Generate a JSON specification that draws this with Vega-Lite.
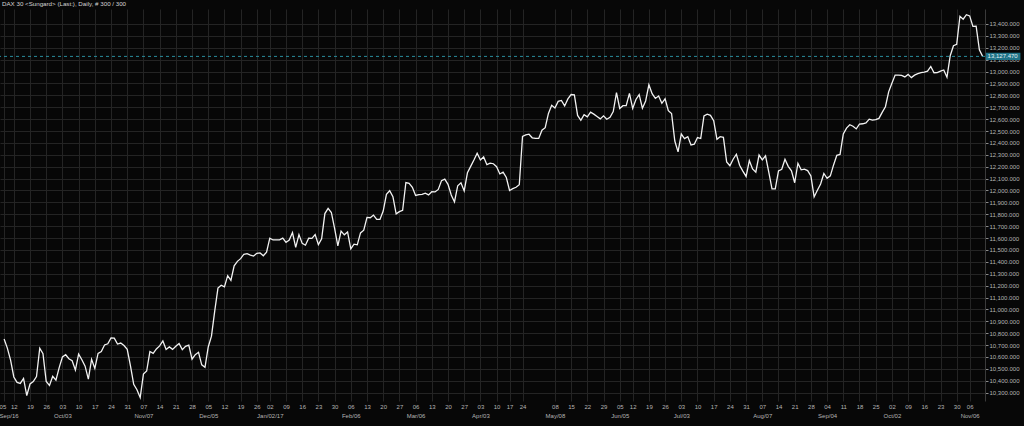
{
  "$schema": "https://vega.github.io/schema/vega-lite/v6.json",
  "width": 985,
  "height": 392,
  "autosize": {"type": "none"},
  "padding": {"left": 0, "top": 9, "right": 39, "bottom": 25},
  "background": "#070707",
  "title": {"text": "DAX 30 <Sungard> (Last:), Daily, # 300 / 300", "anchor": "start", "frame": "group", "offset": 2, "dx": 2, "fontSize": 6.2, "fontWeight": "normal", "color": "#d4d4d4", "font": "Liberation Sans"},
  "config": {
    "font": "Liberation Sans",
    "view": {"stroke": null, "fill": "#070707"},
    "axis": {"gridColor": "#242424", "gridWidth": 1, "labelColor": "#b4b4b4", "labelFont": "Liberation Sans", "labelFontSize": 6}
  },
  "datasets": {
    "dax": [
      {"d":"2016-09-07","v":10752},{"d":"2016-09-08","v":10675},{"d":"2016-09-09","v":10573},{"d":"2016-09-12","v":10432},{"d":"2016-09-13","v":10386},{"d":"2016-09-14","v":10378},{"d":"2016-09-15","v":10420},{"d":"2016-09-16","v":10276},{"d":"2016-09-19","v":10373},{"d":"2016-09-20","v":10393},{"d":"2016-09-21","v":10436},{"d":"2016-09-22","v":10674},{"d":"2016-09-23","v":10627},{"d":"2016-09-26","v":10394},{"d":"2016-09-27","v":10361},{"d":"2016-09-28","v":10438},{"d":"2016-09-29","v":10405},{"d":"2016-09-30","v":10511},
      {"d":"2016-10-03","v":10600},{"d":"2016-10-04","v":10619},{"d":"2016-10-05","v":10585},{"d":"2016-10-06","v":10568},{"d":"2016-10-07","v":10490},{"d":"2016-10-10","v":10624},{"d":"2016-10-11","v":10577},{"d":"2016-10-12","v":10523},{"d":"2016-10-13","v":10414},{"d":"2016-10-14","v":10580},{"d":"2016-10-17","v":10504},{"d":"2016-10-18","v":10631},{"d":"2016-10-19","v":10646},{"d":"2016-10-20","v":10701},{"d":"2016-10-21","v":10711},{"d":"2016-10-24","v":10761},{"d":"2016-10-25","v":10758},{"d":"2016-10-26","v":10709},{"d":"2016-10-27","v":10717},{"d":"2016-10-28","v":10696},{"d":"2016-10-31","v":10665},
      {"d":"2016-11-01","v":10526},{"d":"2016-11-02","v":10370},{"d":"2016-11-03","v":10325},{"d":"2016-11-04","v":10259},{"d":"2016-11-07","v":10456},{"d":"2016-11-08","v":10482},{"d":"2016-11-09","v":10646},{"d":"2016-11-10","v":10631},{"d":"2016-11-11","v":10668},{"d":"2016-11-14","v":10693},{"d":"2016-11-15","v":10735},{"d":"2016-11-16","v":10663},{"d":"2016-11-17","v":10685},{"d":"2016-11-18","v":10664},{"d":"2016-11-21","v":10690},{"d":"2016-11-22","v":10714},{"d":"2016-11-23","v":10662},{"d":"2016-11-24","v":10689},{"d":"2016-11-25","v":10699},{"d":"2016-11-28","v":10582},{"d":"2016-11-29","v":10620},{"d":"2016-11-30","v":10640},
      {"d":"2016-12-01","v":10534},{"d":"2016-12-02","v":10513},{"d":"2016-12-05","v":10684},{"d":"2016-12-06","v":10775},{"d":"2016-12-07","v":10986},{"d":"2016-12-08","v":11179},{"d":"2016-12-09","v":11203},{"d":"2016-12-12","v":11190},{"d":"2016-12-13","v":11284},{"d":"2016-12-14","v":11244},{"d":"2016-12-15","v":11367},{"d":"2016-12-16","v":11404},{"d":"2016-12-19","v":11427},{"d":"2016-12-20","v":11464},{"d":"2016-12-21","v":11469},{"d":"2016-12-22","v":11456},{"d":"2016-12-23","v":11449},{"d":"2016-12-27","v":11472},{"d":"2016-12-28","v":11475},{"d":"2016-12-29","v":11451},{"d":"2016-12-30","v":11481},
      {"d":"2017-01-02","v":11599},{"d":"2017-01-03","v":11584},{"d":"2017-01-04","v":11585},{"d":"2017-01-05","v":11585},{"d":"2017-01-06","v":11599},{"d":"2017-01-09","v":11563},{"d":"2017-01-10","v":11583},{"d":"2017-01-11","v":11646},{"d":"2017-01-12","v":11521},{"d":"2017-01-13","v":11629},{"d":"2017-01-16","v":11555},{"d":"2017-01-17","v":11540},{"d":"2017-01-18","v":11599},{"d":"2017-01-19","v":11597},{"d":"2017-01-20","v":11630},{"d":"2017-01-23","v":11545},{"d":"2017-01-24","v":11594},{"d":"2017-01-25","v":11806},{"d":"2017-01-26","v":11849},{"d":"2017-01-27","v":11815},{"d":"2017-01-30","v":11681},{"d":"2017-01-31","v":11535},
      {"d":"2017-02-01","v":11659},{"d":"2017-02-02","v":11627},{"d":"2017-02-03","v":11651},{"d":"2017-02-06","v":11509},{"d":"2017-02-07","v":11549},{"d":"2017-02-08","v":11543},{"d":"2017-02-09","v":11643},{"d":"2017-02-10","v":11666},{"d":"2017-02-13","v":11774},{"d":"2017-02-14","v":11771},{"d":"2017-02-15","v":11793},{"d":"2017-02-16","v":11757},{"d":"2017-02-17","v":11757},{"d":"2017-02-20","v":11827},{"d":"2017-02-21","v":11967},{"d":"2017-02-22","v":11998},{"d":"2017-02-23","v":11948},{"d":"2017-02-24","v":11804},{"d":"2017-02-27","v":11822},{"d":"2017-02-28","v":11834},
      {"d":"2017-03-01","v":12067},{"d":"2017-03-02","v":12060},{"d":"2017-03-03","v":12027},{"d":"2017-03-06","v":11958},{"d":"2017-03-07","v":11966},{"d":"2017-03-08","v":11967},{"d":"2017-03-09","v":11978},{"d":"2017-03-10","v":11963},{"d":"2017-03-13","v":11990},{"d":"2017-03-14","v":11988},{"d":"2017-03-15","v":12009},{"d":"2017-03-16","v":12083},{"d":"2017-03-17","v":12095},{"d":"2017-03-20","v":12052},{"d":"2017-03-21","v":11962},{"d":"2017-03-22","v":11904},{"d":"2017-03-23","v":12040},{"d":"2017-03-24","v":12064},{"d":"2017-03-27","v":11996},{"d":"2017-03-28","v":12149},{"d":"2017-03-29","v":12203},{"d":"2017-03-30","v":12256},{"d":"2017-03-31","v":12313},
      {"d":"2017-04-03","v":12257},{"d":"2017-04-04","v":12282},{"d":"2017-04-05","v":12217},{"d":"2017-04-06","v":12230},{"d":"2017-04-07","v":12225},{"d":"2017-04-10","v":12200},{"d":"2017-04-11","v":12139},{"d":"2017-04-12","v":12154},{"d":"2017-04-13","v":12109},{"d":"2017-04-18","v":12000},{"d":"2017-04-19","v":12016},{"d":"2017-04-20","v":12027},{"d":"2017-04-21","v":12048},{"d":"2017-04-24","v":12455},{"d":"2017-04-25","v":12467},{"d":"2017-04-26","v":12473},{"d":"2017-04-27","v":12443},{"d":"2017-04-28","v":12438},
      {"d":"2017-05-01","v":12438},{"d":"2017-05-02","v":12507},{"d":"2017-05-03","v":12528},{"d":"2017-05-04","v":12648},{"d":"2017-05-05","v":12717},{"d":"2017-05-08","v":12694},{"d":"2017-05-09","v":12749},{"d":"2017-05-10","v":12757},{"d":"2017-05-11","v":12711},{"d":"2017-05-12","v":12770},{"d":"2017-05-15","v":12807},{"d":"2017-05-16","v":12804},{"d":"2017-05-17","v":12631},{"d":"2017-05-18","v":12590},{"d":"2017-05-19","v":12638},{"d":"2017-05-22","v":12619},{"d":"2017-05-23","v":12659},{"d":"2017-05-24","v":12642},{"d":"2017-05-25","v":12622},{"d":"2017-05-26","v":12602},{"d":"2017-05-29","v":12628},{"d":"2017-05-30","v":12599},{"d":"2017-05-31","v":12615},
      {"d":"2017-06-01","v":12664},{"d":"2017-06-02","v":12823},{"d":"2017-06-06","v":12690},{"d":"2017-06-07","v":12713},{"d":"2017-06-08","v":12714},{"d":"2017-06-09","v":12816},{"d":"2017-06-12","v":12690},{"d":"2017-06-13","v":12765},{"d":"2017-06-14","v":12806},{"d":"2017-06-15","v":12692},{"d":"2017-06-16","v":12753},{"d":"2017-06-19","v":12889},{"d":"2017-06-20","v":12814},{"d":"2017-06-21","v":12774},{"d":"2017-06-22","v":12794},{"d":"2017-06-23","v":12733},{"d":"2017-06-26","v":12771},{"d":"2017-06-27","v":12671},{"d":"2017-06-28","v":12647},{"d":"2017-06-29","v":12416},{"d":"2017-06-30","v":12325},
      {"d":"2017-07-03","v":12475},{"d":"2017-07-04","v":12437},{"d":"2017-07-05","v":12453},{"d":"2017-07-06","v":12382},{"d":"2017-07-07","v":12389},{"d":"2017-07-10","v":12445},{"d":"2017-07-11","v":12437},{"d":"2017-07-12","v":12627},{"d":"2017-07-13","v":12641},{"d":"2017-07-14","v":12632},{"d":"2017-07-17","v":12587},{"d":"2017-07-18","v":12431},{"d":"2017-07-19","v":12452},{"d":"2017-07-20","v":12447},{"d":"2017-07-21","v":12240},{"d":"2017-07-24","v":12208},{"d":"2017-07-25","v":12263},{"d":"2017-07-26","v":12305},{"d":"2017-07-27","v":12212},{"d":"2017-07-28","v":12163},{"d":"2017-07-31","v":12118},
      {"d":"2017-08-01","v":12251},{"d":"2017-08-02","v":12181},{"d":"2017-08-03","v":12154},{"d":"2017-08-04","v":12298},{"d":"2017-08-07","v":12257},{"d":"2017-08-08","v":12292},{"d":"2017-08-09","v":12154},{"d":"2017-08-10","v":12014},{"d":"2017-08-11","v":12014},{"d":"2017-08-14","v":12165},{"d":"2017-08-15","v":12178},{"d":"2017-08-16","v":12263},{"d":"2017-08-17","v":12203},{"d":"2017-08-18","v":12165},{"d":"2017-08-21","v":12065},{"d":"2017-08-22","v":12229},{"d":"2017-08-23","v":12174},{"d":"2017-08-24","v":12180},{"d":"2017-08-25","v":12167},{"d":"2017-08-28","v":12123},{"d":"2017-08-29","v":11946},{"d":"2017-08-30","v":12002},{"d":"2017-08-31","v":12055},
      {"d":"2017-09-01","v":12143},{"d":"2017-09-04","v":12102},{"d":"2017-09-05","v":12123},{"d":"2017-09-06","v":12215},{"d":"2017-09-07","v":12296},{"d":"2017-09-08","v":12303},{"d":"2017-09-11","v":12475},{"d":"2017-09-12","v":12524},{"d":"2017-09-13","v":12553},{"d":"2017-09-14","v":12540},{"d":"2017-09-15","v":12518},{"d":"2017-09-18","v":12559},{"d":"2017-09-19","v":12561},{"d":"2017-09-20","v":12569},{"d":"2017-09-21","v":12600},{"d":"2017-09-22","v":12592},{"d":"2017-09-25","v":12595},{"d":"2017-09-26","v":12606},{"d":"2017-09-27","v":12657},{"d":"2017-09-28","v":12704},{"d":"2017-09-29","v":12829},
      {"d":"2017-10-02","v":12902},{"d":"2017-10-03","v":12970},{"d":"2017-10-04","v":12970},{"d":"2017-10-05","v":12968},{"d":"2017-10-06","v":12955},{"d":"2017-10-09","v":12976},{"d":"2017-10-10","v":12949},{"d":"2017-10-11","v":12970},{"d":"2017-10-12","v":12982},{"d":"2017-10-13","v":12991},{"d":"2017-10-16","v":12995},{"d":"2017-10-17","v":13003},{"d":"2017-10-18","v":13043},{"d":"2017-10-19","v":12990},{"d":"2017-10-20","v":12991},{"d":"2017-10-23","v":13003},{"d":"2017-10-24","v":13013},{"d":"2017-10-25","v":12953},{"d":"2017-10-26","v":13133},{"d":"2017-10-27","v":13217},{"d":"2017-10-30","v":13229},
      {"d":"2017-11-01","v":13465},{"d":"2017-11-02","v":13440},{"d":"2017-11-03","v":13478},{"d":"2017-11-06","v":13468},{"d":"2017-11-07","v":13380},{"d":"2017-11-08","v":13382},{"d":"2017-11-09","v":13182},{"d":"2017-11-10","v":13127.47}
    ]
  },
  "data": {"name": "dax"},
  "layer": [
    {
      "mark": {"type": "line", "color": "#f2f2f2", "strokeWidth": 1.3},
      "encoding": {
        "x": {
          "field": "d", "type": "ordinal", "title": null,
          "scale": {"type": "point", "padding": 1.392, "align": 0.633},
          "axis": {
            "values": ["2016-09-07","2016-09-12","2016-09-19","2016-09-26","2016-10-03","2016-10-10","2016-10-17","2016-10-24","2016-10-31","2016-11-07","2016-11-14","2016-11-21","2016-11-28","2016-12-05","2016-12-12","2016-12-19","2016-12-27","2017-01-02","2017-01-09","2017-01-16","2017-01-23","2017-01-30","2017-02-06","2017-02-13","2017-02-20","2017-02-27","2017-03-06","2017-03-13","2017-03-20","2017-03-27","2017-04-03","2017-04-10","2017-04-18","2017-04-24","2017-05-08","2017-05-15","2017-05-22","2017-05-29","2017-06-06","2017-06-12","2017-06-19","2017-06-26","2017-07-03","2017-07-10","2017-07-17","2017-07-24","2017-07-31","2017-08-07","2017-08-14","2017-08-21","2017-08-28","2017-09-04","2017-09-11","2017-09-18","2017-09-25","2017-10-02","2017-10-09","2017-10-16","2017-10-23","2017-10-30","2017-11-06"],
            "labelExpr": "indexof(['2016-09-07','2016-10-03','2016-11-07','2016-12-05','2017-01-02','2017-02-06','2017-03-06','2017-04-03','2017-05-08','2017-06-06','2017-07-03','2017-08-07','2017-09-04','2017-10-02','2017-11-06'], datum.value) >= 0 ? [(datum.value == '2016-09-07' ? ' 05' : datum.value == '2017-06-06' ? '05' : substring(datum.value, 8, 10)), ['Sep/16','Oct/03','Nov/07','Dec/05','Jan/02/17','Feb/06','Mar/06','Apr/03','May/08','Jun/05','Jul/03','Aug/07','Sep/04','Oct/02','Nov/06'][indexof(['2016-09-07','2016-10-03','2016-11-07','2016-12-05','2017-01-02','2017-02-06','2017-03-06','2017-04-03','2017-05-08','2017-06-06','2017-07-03','2017-08-07','2017-09-04','2017-10-02','2017-11-06'], datum.value)]] : (datum.value == '2016-12-27' ? '26' : datum.value == '2017-04-18' ? '17' : substring(datum.value, 8, 10))",
            "labelAngle": 0,
            "labelAlign": {"condition": {"test": "datum.value == '2016-09-07'", "value": "left"}, "value": "center"},
            "labelOffset": {"condition": {"test": "datum.value == '2016-09-07'", "value": -5}, "value": 0},
            "labelBaseline": "top", "labelLineHeight": 9.5,
            "labelPadding": 2, "labelOverlap": false, "labelBound": false, "labelFlush": false,
            "ticks": false, "domain": false, "grid": true
          }
        },
        "y": {
          "field": "v", "type": "quantitative", "title": null,
          "scale": {"domain": [10230, 13526], "nice": false, "zero": false},
          "axis": {
            "orient": "right",
            "values": [10300,10400,10500,10600,10700,10800,10900,11000,11100,11200,11300,11400,11500,11600,11700,11800,11900,12000,12100,12200,12300,12400,12500,12600,12700,12800,12900,13000,13100,13200,13300,13400],
            "tickCount": 40,
            "format": ",.3f", "tickSize": 3, "tickColor": "#8a8a8a", "labelPadding": 1,
            "domain": true, "domainColor": "#3a3a3a", "grid": true, "labelBound": false, "labelOverlap": false
          }
        }
      }
    },
    {
      "transform": [{"filter": "datum.d == '2017-11-10'"}],
      "mark": {"type": "rule", "color": "#2a8c9c", "strokeWidth": 1, "strokeDash": [3, 3]},
      "encoding": {"y": {"field": "v", "type": "quantitative", "title": null}}
    },
    {
      "transform": [{"filter": "datum.d == '2017-11-10'"}],
      "mark": {"type": "point", "shape": "M0.18,-0.2H2.1V0.2H0.18Z", "size": 1296, "filled": true, "color": "#1f7387", "opacity": 1, "strokeWidth": 0},
      "encoding": {
        "x": {"field": "d", "type": "ordinal", "title": null},
        "y": {"field": "v", "type": "quantitative", "title": null}
      }
    },
    {
      "transform": [{"filter": "datum.d == '2017-11-10'"}],
      "mark": {"type": "text", "align": "left", "baseline": "middle", "dx": 5, "fontSize": 6, "color": "#e4f2f5", "font": "Liberation Sans"},
      "encoding": {
        "x": {"field": "d", "type": "ordinal", "title": null},
        "y": {"field": "v", "type": "quantitative", "title": null},
        "text": {"field": "v", "type": "quantitative", "format": ",.3f"}
      }
    }
  ]
}
